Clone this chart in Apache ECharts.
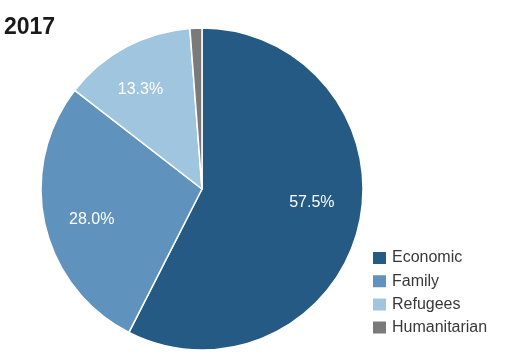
<!DOCTYPE html>
<html><head><meta charset="utf-8">
<script src="https://cdn.jsdelivr.net/npm/echarts@6/dist/echarts.min.js"></script>
<style>html,body{margin:0;padding:0;background:#fff}#c{width:508px;height:355px}</style>
</head><body><div id="c"></div>
<script>
const title = '2017';
const categories = ['Economic', 'Family', 'Refugees', 'Humanitarian'];
const shares = [57.5, 28.0, 13.3, 1.2];
const labels = ['57.5%', '28.0%', '13.3%', ''];
const colors = ['#245a83', '#5f93bd', '#a0c5df', '#7a7a7a'];
// small label nudges (styling only)
const labelNudge = [[0, -13], [0, 6], [-8, 0], [0, 0]];

const chart = echarts.init(document.getElementById('c'));
const mainData = categories.map((n, i) => ({ name: n, value: shares[i], itemStyle: { color: colors[i] } }));
const labelData = categories.map((n, i) => ({ name: n, value: shares[i], label: { formatter: labels[i], offset: labelNudge[i] } }));
chart.setOption({
  animation: false,
  title: { text: title, left: 4, top: 16, padding: 0, textStyle: { fontFamily: 'Liberation Sans', fontSize: 23, fontWeight: 'bold', color: '#1a1a1a' } },
  legend: {
    data: categories, orient: 'vertical', left: 371, top: 250, padding: 0, icon: 'rect', itemWidth: 15, itemHeight: 14, itemGap: 7.2,
    textStyle: { fontFamily: 'Liberation Sans', fontSize: 16, color: '#383838', padding: [0, 0, 0, 0] }, selectedMode: false
  },
  series: [
    { type: 'pie', center: [202, 189], radius: [0, 161], startAngle: 90, clockwise: true, data: mainData,
      label: { show: false }, labelLine: { show: false }, silent: true,
      itemStyle: { borderColor: '#fff', borderWidth: 1.5 } },
    { type: 'pie', center: [202, 189], radius: [59, 161], startAngle: 90, clockwise: true, data: labelData,
      silent: true, legendHoverLink: false,
      itemStyle: { color: 'rgba(0,0,0,0)', borderWidth: 0 },
      label: { show: true, position: 'inside', color: '#fff', fontFamily: 'Liberation Sans', fontSize: 16 },
      labelLine: { show: false } }
  ]
});
</script></body></html>
